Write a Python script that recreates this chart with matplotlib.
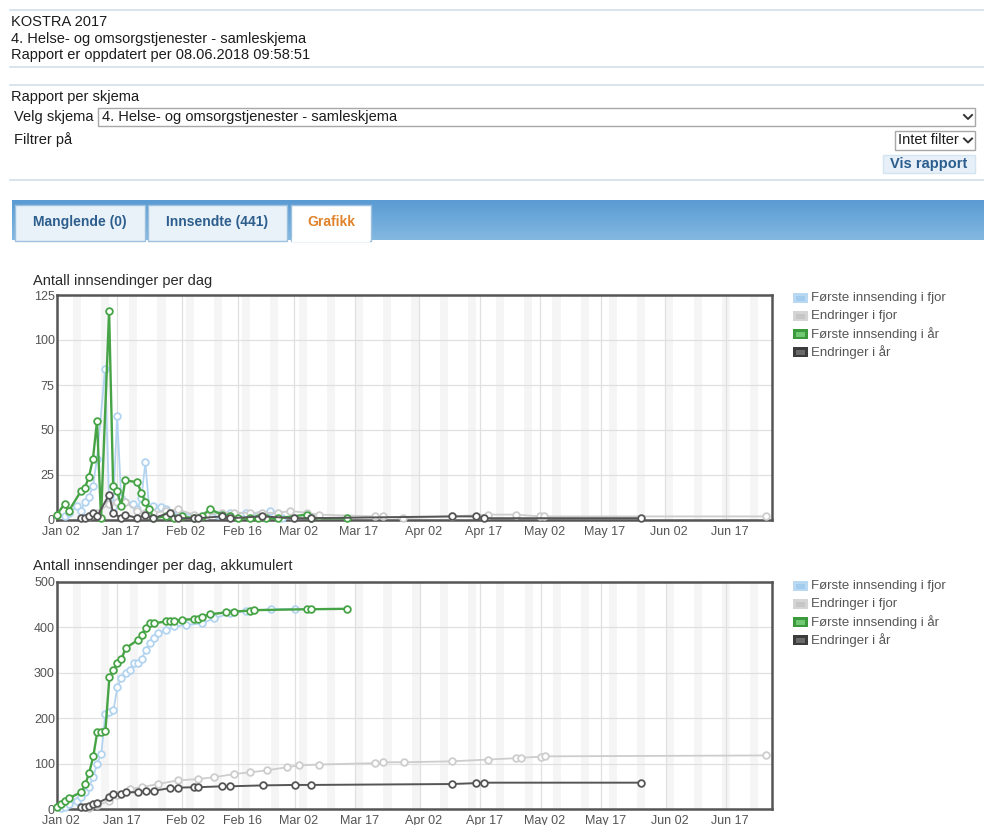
import matplotlib.pyplot as plt
import matplotlib.transforms as mtransforms
from matplotlib.patches import Rectangle
from matplotlib.colors import LinearSegmentedColormap
import numpy as np
import pandas as pd

plt.rcParams['font.family'] = ['Liberation Sans', 'DejaVu Sans']

# series names (legend)
series_names = ['Første innsending i fjor', 'Endringer i fjor', 'Første innsending i år', 'Endringer i år']

# x axis ticks
tick_days = ['01-02', '01-17', '02-02', '02-16', '03-02', '03-17',
             '04-02', '04-17', '05-02', '05-17', '06-02', '06-17']
tick_labels = ['Jan 02', 'Jan 17', 'Feb 02', 'Feb 16', 'Mar 02', 'Mar 17',
               'Apr 02', 'Apr 17', 'May 02', 'May 17', 'Jun 02', 'Jun 17']

# --- per day ---
blue_daily_dates = ['01-04', '01-05', '01-07', '01-08', '01-09', '01-10', '01-11', '01-12', '01-14', '01-15',
                    '01-16', '01-17', '01-18', '01-19', '01-21', '01-22', '01-23', '01-24', '01-25', '01-26',
                    '01-28', '01-29', '01-31', '02-01', '02-05', '02-08', '02-11', '02-14', '02-18', '02-21',
                    '02-24', '02-27', '03-02']
blue_daily_vals = [2, 4, 8, 5, 10, 13, 19, 34, 84, 10,
                   7, 58, 12, 10, 9, 6, 12, 32, 5, 8,
                   7, 6, 4, 5, 2, 3, 3, 4, 4, 3,
                   5, 1, 1]

gray_daily_dates = ['01-10', '01-12', '01-15', '01-17', '01-19', '01-22', '01-24', '01-26', '01-29', '02-01',
                    '02-05', '02-08', '02-12', '02-15', '02-19', '02-22', '02-26', '03-01', '03-05', '03-08',
                    '03-22', '03-24', '03-29', '04-10', '04-19', '04-26', '05-02', '05-03', '06-27']
gray_daily_vals = [2, 4, 9, 10, 10, 5, 4, 4, 5, 6,
                   3, 3, 4, 4, 4, 4, 4, 5, 4, 3,
                   2, 2, 1, 2, 3, 3, 2, 2, 2]

green_daily_dates = ['01-02', '01-04', '01-05', '01-08', '01-09', '01-10', '01-11', '01-12', '01-13', '01-15',
                     '01-16', '01-17', '01-18', '01-19', '01-22', '01-23', '01-24', '01-25', '01-26', '01-29',
                     '01-31', '02-02', '02-05', '02-07', '02-09', '02-12', '02-14', '02-16', '02-19', '02-21',
                     '02-23', '02-26', '03-05', '03-06', '03-15']
green_daily_vals = [3, 9, 5, 16, 18, 24, 34, 55, 1, 116,
                    19, 16, 8, 22, 21, 15, 10, 6, 1, 2,
                    1, 2, 1, 2, 6, 3, 2, 1, 1, 1,
                    1, 1, 3, 1, 1]

dark_daily_dates = ['01-08', '01-09', '01-10', '01-11', '01-12', '01-15', '01-16', '01-18', '01-19', '01-22',
                    '01-24', '01-26', '01-30', '02-01', '02-05', '02-06', '02-12', '02-14', '02-22', '03-02',
                    '03-06', '04-10', '04-16', '04-18', '05-27']
dark_daily_vals = [1, 1, 2, 4, 2, 14, 4, 1, 3, 1,
                   3, 1, 4, 1, 1, 1, 2, 1, 2, 1,
                   1, 2, 2, 1, 1]

# --- accumulated ---
blue_cum_dates = ['01-03', '01-04', '01-05', '01-07', '01-08', '01-09', '01-10', '01-11', '01-12', '01-13',
                  '01-14', '01-15', '01-16', '01-17', '01-18', '01-19', '01-20', '01-21', '01-22', '01-23',
                  '01-24', '01-25', '01-26', '01-27', '01-29', '01-31', '02-03', '02-07', '02-10', '02-14',
                  '02-18', '02-24', '03-02']
blue_cum_vals = [2, 5, 10, 18, 26, 38, 49, 71, 100, 122,
                 210, 213, 217, 269, 288, 299, 306, 321, 321, 330,
                 350, 365, 376, 387, 394, 402, 405, 409, 420, 431,
                 436, 440, 441]

gray_cum_dates = ['01-10', '01-12', '01-15', '01-17', '01-20', '01-23', '01-27', '02-01', '02-06', '02-10',
                  '02-15', '02-19', '02-23', '02-28', '03-03', '03-08', '03-22', '03-24', '03-29', '04-10',
                  '04-19', '04-26', '04-27', '05-02', '05-03', '06-27']
gray_cum_vals = [2, 8, 18, 30, 44, 48, 55, 63, 66, 70,
                 77, 81, 85, 92, 96, 98, 101, 103, 103, 105,
                 109, 112, 113, 115, 116, 118]

green_cum_dates = ['01-02', '01-03', '01-04', '01-05', '01-08', '01-09', '01-10', '01-11', '01-12', '01-13',
                   '01-14', '01-15', '01-16', '01-17', '01-18', '01-19', '01-22', '01-23', '01-24', '01-25',
                   '01-26', '01-29', '01-30', '01-31', '02-02', '02-05', '02-06', '02-07', '02-09', '02-13',
                   '02-15', '02-19', '02-20', '03-05', '03-06', '03-15']
green_cum_vals = [4, 11, 18, 24, 37, 54, 80, 116, 170, 170,
                  172, 290, 306, 321, 330, 354, 372, 384, 398, 409,
                  409, 413, 413, 414, 417, 418, 419, 424, 429, 433,
                  435, 437, 438, 440, 440, 441]

dark_cum_dates = ['01-08', '01-09', '01-10', '01-11', '01-12', '01-15', '01-16', '01-18', '01-19', '01-22',
                  '01-24', '01-26', '01-30', '02-01', '02-05', '02-06', '02-12', '02-14', '02-22', '03-02',
                  '03-06', '04-10', '04-16', '04-18', '05-27']
dark_cum_vals = [4, 5, 7, 11, 13, 26, 33, 33, 37, 37,
                 39, 40, 46, 47, 48, 48, 50, 50, 52, 53,
                 53, 55, 57, 58, 58]

line_colors = ['#b3d4f0', '#cdcdcd', '#46a346', '#555555']
swatch_outer = ['#b9d8f2', '#d4d4d4', '#3b9a3b', '#3c3c3c']
swatch_inner = ['#a3cbee', '#c6c6c6', '#72c872', '#6a6a6a']


def to_dates(md):
    return pd.to_datetime(['2018-' + s for s in md])


fig = plt.figure(figsize=(9.84, 8.25), dpi=100)

# page furniture drawn in pixel coordinates
page = fig.add_axes([0, 0, 1, 1])
page.axis('off')

sep = '#d3dfe9'
for yy in [10, 67, 85, 180]:
    page.plot([10, 984], [yy, yy], color=sep, lw=1.2)

txt = dict(fontsize=10.5, va='center', color='#1c1c1c')
page.text(11, 22, 'KOSTRA 2017', **txt)
page.text(11, 39, '4. Helse- og omsorgstjenester - samleskjema', **txt)
page.text(11, 55, 'Rapport er oppdatert per 08.06.2018 09:58:51', **txt)
page.text(11, 97, 'Rapport per skjema', **txt)
page.text(14, 117, 'Velg skjema', **txt)
page.text(14, 140, 'Filtrer på', **txt)

page.add_patch(Rectangle((98, 108), 877, 18, facecolor='white', edgecolor='#a8a8a8', lw=1))
page.text(102, 117, '4. Helse- og omsorgstjenester - samleskjema', **txt)
page.plot([964, 968, 972], [115, 119, 115], color='#333333', lw=1.4)

page.add_patch(Rectangle((895, 131), 80, 19, facecolor='white', edgecolor='#a8a8a8', lw=1))
page.text(898, 140.5, 'Intet filter', **txt)
page.plot([964, 968, 972], [138.5, 142.5, 138.5], color='#333333', lw=1.4)

page.add_patch(Rectangle((883, 155), 92, 18, facecolor='#e7f0f8', edgecolor='#d5e4f1', lw=1))
page.text(929, 164, 'Vis rapport', fontsize=10.5, fontweight='bold', color='#2b5e8e',
          ha='center', va='center')

# tab bar
bar_cmap = LinearSegmentedColormap.from_list('bar', ['#5b9bd3', '#6ea9da', '#84b8e0'])
page.imshow(np.linspace(0, 1, 60).reshape(-1, 1), extent=[12, 984, 240, 200],
            aspect='auto', cmap=bar_cmap, zorder=1)
tabs = [('Manglende (0)', 15, 145, '#e9f2f9', '#2d5e8d'),
        ('Innsendte (441)', 148, 287, '#e9f2f9', '#2d5e8d'),
        ('Grafikk', 291, 371, '#ffffff', '#e0822a')]
for name, xa, xb, fc, tc in tabs:
    page.add_patch(Rectangle((xa, 205), xb - xa, 36, facecolor=fc, edgecolor='#9cc0de', lw=1, zorder=2))
    page.text((xa + xb) / 2, 222, name, fontsize=10, fontweight='bold', color=tc,
              ha='center', va='center', zorder=3)
page.add_patch(Rectangle((292, 238), 78, 4, facecolor='white', edgecolor='none', zorder=3))

# chart titles
page.text(33, 281, 'Antall innsendinger per dag', fontsize=10.5, va='center', color='#2a2a2a')
page.text(33, 566, 'Antall innsendinger per dag, akkumulert', fontsize=10.5, va='center', color='#2a2a2a')

# legends
for top in [298, 586]:
    for i, name in enumerate(series_names):
        yc = top + i * 18
        page.add_patch(Rectangle((793, yc - 5), 15, 10, facecolor=swatch_outer[i], edgecolor='none'))
        page.add_patch(Rectangle((796, yc - 2.5), 9, 5, facecolor=swatch_inner[i], edgecolor='none'))
        page.text(811, yc, name, fontsize=9.5, va='center', color='#555555')

page.set_xlim(0, 984)
page.set_ylim(825, 0)

x0 = pd.Timestamp('2018-01-02')
x1 = x0 + pd.Timedelta(days=177.4)


def style_axes(ax, ymax, yticks):
    ax.set_xlim(x0, x1)
    ax.set_ylim(0, ymax)
    for d in pd.date_range('2017-12-30', '2018-06-30'):
        if d.weekday() == 5:
            ax.axvspan(d, d + pd.Timedelta(days=2), color='#f5f5f5', lw=0, zorder=0.1)
    ax.set_yticks(yticks)
    ax.set_xticks(to_dates(tick_days))
    ax.set_xticklabels(tick_labels)
    ax.grid(True, color='#e0e0e0', lw=0.9)
    ax.set_axisbelow(True)
    ax.tick_params(length=0, labelsize=9, labelcolor='#545454')
    ax.tick_params(axis='y', pad=1.5)
    ax.tick_params(axis='x', pad=4)
    for s in ax.spines.values():
        s.set_color('#555555')
        s.set_linewidth(1.8)
    shift = mtransforms.ScaledTranslation(4 / 100, 0, fig.dpi_scale_trans)
    for lab in ax.xaxis.get_majorticklabels():
        lab.set_transform(lab.get_transform() + shift)


def draw_series(ax, dates, vals, color, lw, z):
    ax.plot(to_dates(dates), vals, color=color, lw=lw, marker='o', ms=4.8,
            mfc='white', mec=color, mew=1.3, clip_on=False, zorder=z)


ax1 = fig.add_axes([56.7 / 984, 1 - 520 / 825, 715 / 984, 225 / 825])
style_axes(ax1, 125, [0, 25, 50, 75, 100, 125])
draw_series(ax1, blue_daily_dates, blue_daily_vals, line_colors[0], 1.3, 3)
draw_series(ax1, gray_daily_dates, gray_daily_vals, line_colors[1], 1.3, 4)
draw_series(ax1, green_daily_dates, green_daily_vals, line_colors[2], 1.7, 5)
draw_series(ax1, dark_daily_dates, dark_daily_vals, line_colors[3], 1.4, 6)

ax2 = fig.add_axes([57 / 984, 1 - 809 / 825, 715 / 984, 227 / 825])
style_axes(ax2, 500, [0, 100, 200, 300, 400, 500])
draw_series(ax2, blue_cum_dates, blue_cum_vals, line_colors[0], 1.3, 3)
draw_series(ax2, gray_cum_dates, gray_cum_vals, line_colors[1], 1.3, 4)
draw_series(ax2, green_cum_dates, green_cum_vals, line_colors[2], 1.7, 5)
draw_series(ax2, dark_cum_dates, dark_cum_vals, line_colors[3], 1.4, 6)

fig.savefig('out.png', dpi=100)
